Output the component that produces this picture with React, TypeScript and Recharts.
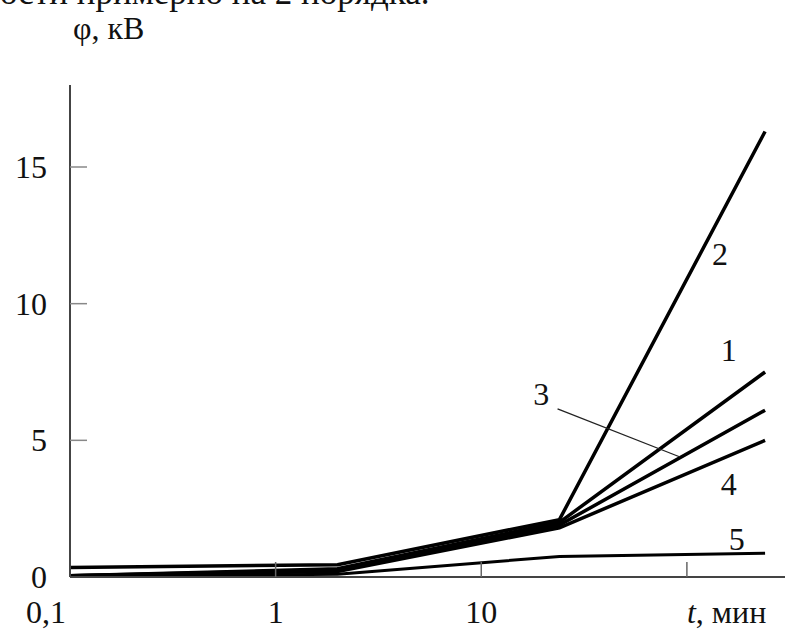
import { LineChart, Line, XAxis, YAxis, ReferenceLine, ReferenceDot } from 'recharts';

const times = [0.1, 2, 24, 240];
const curve1 = [0.05, 0.3, 2.0, 7.5];
const curve2 = [0.35, 0.45, 2.1, 16.3];
const curve3 = [0.05, 0.25, 1.9, 6.1];
const curve4 = [0.05, 0.2, 1.8, 5.0];
const curve5 = [0.02, 0.1, 0.75, 0.87];

const xTicks = [0.1, 1, 10, 100];
const xTickLabels = ['0,1', '1', '10', ''];
const yTicks = [0, 5, 10, 15];

// curve number labels, placed in data coordinates
const curveLabels = [
  { name: '2', t: 145, v: 11.8 },
  { name: '1', t: 160, v: 8.3 },
  { name: '3', t: 19.6, v: 6.7 },
  { name: '4', t: 160, v: 3.4 },
  { name: '5', t: 175, v: 1.4 },
];
const leader = [
  { t: 23.5, v: 6.15 },
  { t: 92, v: 4.4 },
];

const data = times.map((t, i) => ({
  t,
  c1: curve1[i],
  c2: curve2[i],
  c3: curve3[i],
  c4: curve4[i],
  c5: curve5[i],
}));

const FONT = '"Liberation Serif", "DejaVu Serif", serif';
const FS = 32;

const XTick = (props: any) => {
  const { x, y, payload } = props;
  const idx = xTicks.indexOf(payload.value);
  const label = xTickLabels[idx] ?? '';
  const isLast = payload.value === 100;
  return (
    <g>
      {payload.value !== 0.1 && (
        <line x1={x} y1={y} x2={x} y2={y - 15} stroke="#666" strokeWidth={1.5} />
      )}
      {isLast ? (
        <text x={x} y={y + 46} fontFamily={FONT} fontSize={FS} fill="#111">
          <tspan fontStyle="italic">t</tspan>
          <tspan>, мин</tspan>
        </text>
      ) : (
        <text
          x={payload.value === 0.1 ? x - 24 : x}
          y={y + 46}
          textAnchor="middle"
          fontFamily={FONT}
          fontSize={FS}
          fill="#111"
        >
          {label}
        </text>
      )}
    </g>
  );
};

const YTick = (props: any) => {
  const { x, y, payload } = props;
  return (
    <g>
      {payload.value !== 0 && (
        <line x1={x} y1={y} x2={x + 17} y2={y} stroke="#888" strokeWidth={1.5} />
      )}
      <text x={x - 23} y={y + 11} textAnchor="end" fontFamily={FONT} fontSize={FS} fill="#111">
        {payload.value}
      </text>
    </g>
  );
};

const CurveLabel = (props: any) => {
  const { viewBox, value } = props;
  return (
    <text
      x={viewBox.x}
      y={viewBox.y + 11}
      textAnchor="middle"
      fontFamily={FONT}
      fontSize={FS}
      fill="#111"
    >
      {value}
    </text>
  );
};

export default function App() {
  return (
    <div
      style={{
        position: 'absolute',
        left: 0,
        top: 0,
        width: 789,
        height: 630,
        background: '#fff',
        overflow: 'hidden',
        fontFamily: FONT,
      }}
    >
      <div
        style={{
          position: 'absolute',
          left: 0,
          top: -27,
          fontSize: 35,
          color: '#111',
          whiteSpace: 'nowrap',
        }}
      >
        ости примерно на 2 порядка.
      </div>
      <div style={{ position: 'absolute', left: 73, top: 10, fontSize: FS, color: '#111' }}>
        φ, кВ
      </div>
      <LineChart
        width={789}
        height={630}
        data={data}
        margin={{ top: 85, right: 4, bottom: 0, left: 0 }}
      >
        <XAxis
          dataKey="t"
          type="number"
          scale="log"
          domain={[0.1, 300]}
          ticks={xTicks}
          height={53}
          tickSize={0}
          tickMargin={0}
          tick={<XTick />}
          axisLine={{ stroke: '#444', strokeWidth: 2 }}
          allowDataOverflow
        />
        <YAxis
          type="number"
          domain={[0, 18]}
          ticks={yTicks}
          width={70}
          tickSize={0}
          tickMargin={0}
          tick={<YTick />}
          axisLine={{ stroke: '#444', strokeWidth: 2 }}
          allowDataOverflow
        />
        <Line dataKey="c5" stroke="#000" strokeWidth={3} dot={false} isAnimationActive={false} />
        <Line dataKey="c4" stroke="#000" strokeWidth={3.5} dot={false} isAnimationActive={false} />
        <Line dataKey="c3" stroke="#000" strokeWidth={3.5} dot={false} isAnimationActive={false} />
        <Line dataKey="c1" stroke="#000" strokeWidth={3.5} dot={false} isAnimationActive={false} />
        <Line dataKey="c2" stroke="#000" strokeWidth={3.5} dot={false} isAnimationActive={false} />
        <ReferenceLine
          segment={[
            { x: leader[0].t, y: leader[0].v },
            { x: leader[1].t, y: leader[1].v },
          ]}
          stroke="#222"
          strokeWidth={1.3}
          ifOverflow="visible"
        />
        {curveLabels.map((c) => (
          <ReferenceDot
            key={c.name}
            x={c.t}
            y={c.v}
            r={0}
            fill="none"
            stroke="none"
            ifOverflow="visible"
            label={<CurveLabel value={c.name} />}
          />
        ))}
      </LineChart>
    </div>
  );
}
